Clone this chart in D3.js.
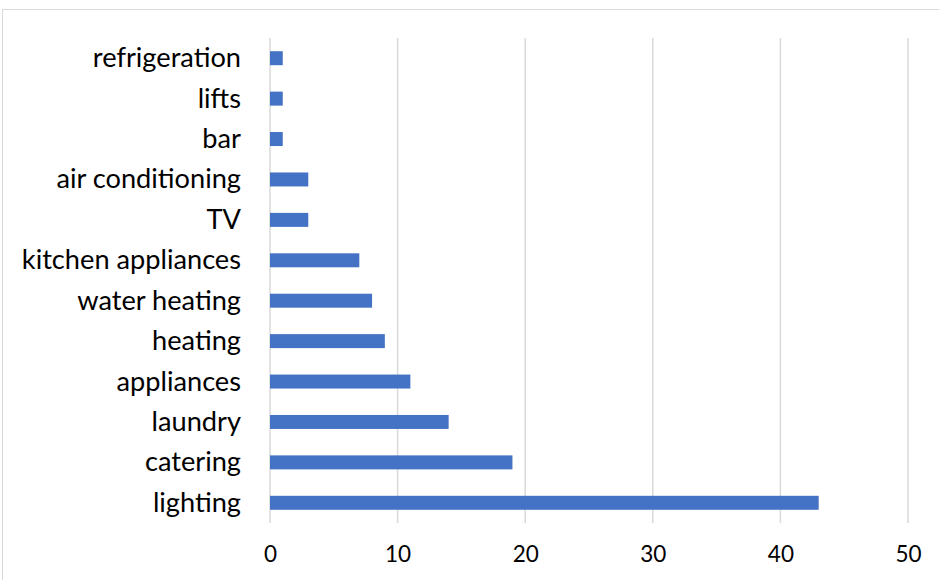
<!DOCTYPE html>
<html>
<head>
<meta charset="utf-8">
<script src="https://cdn.jsdelivr.net/npm/d3@7"></script>
<style>
  html, body { margin: 0; padding: 0; background: #ffffff; }
  svg { display: block; }
  text { font-family: Lato, "Open Sans", sans-serif; fill: #000000; }
</style>
</head>
<body>
<script>
// Energy end uses, listed top to bottom
const categories = [
  "refrigeration", "lifts", "bar", "air conditioning", "TV",
  "kitchen appliances", "water heating", "heating", "appliances",
  "laundry", "catering", "lighting"
];
const values = [1, 1, 1, 3, 3, 7, 8, 9, 11, 14, 19, 43];
const xTicks = [0, 10, 20, 30, 40, 50];

const width = 939, height = 580;
const plot = { left: 270, right: 908, top: 38, bottom: 523 };

const svg = d3.select("body").append("svg")
  .attr("width", width)
  .attr("height", height);

// chart frame
svg.append("rect")
  .attr("x", 2.5).attr("y", 9.5)
  .attr("width", width + 10).attr("height", height + 10)
  .attr("fill", "none")
  .attr("stroke", "#d9d9d9")
  .attr("stroke-width", 1);

const x = d3.scaleLinear().domain([0, 50]).range([plot.left, plot.right]);
const y = d3.scaleBand()
  .domain(categories)
  .range([plot.top, plot.bottom])
  .paddingInner(0.654)
  .paddingOuter(0.327);

// vertical gridlines
svg.append("g")
  .selectAll("line")
  .data(xTicks)
  .join("line")
  .attr("x1", d => x(d)).attr("x2", d => x(d))
  .attr("y1", plot.top).attr("y2", plot.bottom)
  .attr("stroke", "#d9d9d9")
  .attr("stroke-width", 1.5);

// bars
svg.append("g")
  .selectAll("rect")
  .data(categories)
  .join("rect")
  .attr("x", x(0))
  .attr("y", (d) => y(d))
  .attr("width", (d, i) => x(values[i]) - x(0))
  .attr("height", y.bandwidth())
  .attr("fill", "#4472c4");

// x axis labels
const xAxis = d3.axisBottom(x).tickValues(xTicks).tickSize(0).tickPadding(0);
const gx = svg.append("g")
  .attr("transform", `translate(0,${plot.bottom})`)
  .call(xAxis);
gx.select(".domain").remove();
gx.selectAll("text")
  .attr("dy", null)
  .attr("y", 39)
  .style("font-family", "Lato, 'Open Sans', sans-serif")
  .style("font-size", "22.5px")
  .attr("fill", "#000");

// category labels
const yAxis = d3.axisLeft(y).tickSize(0).tickPadding(0);
const gy = svg.append("g")
  .attr("transform", `translate(${plot.left - 29},0)`)
  .call(yAxis);
gy.select(".domain").remove();
gy.selectAll("text")
  .attr("dy", "0.33em")
  .style("font-family", "Lato, 'Open Sans', sans-serif")
  .style("font-size", "27.2px")
  .attr("fill", "#000");
</script>
</body>
</html>
